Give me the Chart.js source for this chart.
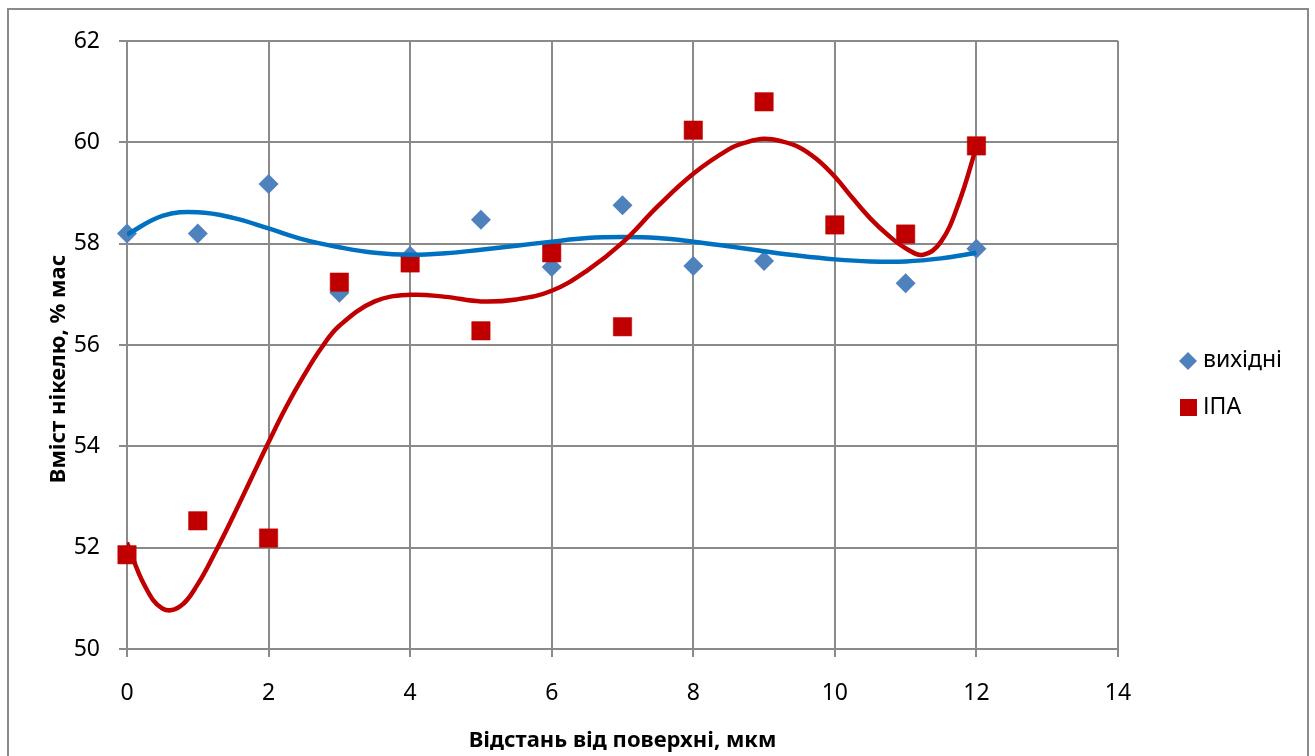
<!DOCTYPE html>
<html>
<head>
<meta charset="utf-8">
<script src="https://cdn.jsdelivr.net/npm/chart.js@4/dist/chart.umd.min.js"></script>
<style>
  html, body { margin: 0; padding: 0; background: #fff; overflow: hidden; }
  #wrap { position: relative; width: 1315px; height: 756px; overflow: hidden; }
  #chart { position: absolute; left: 0; top: 0; }
  #frame {
    position: absolute; left: 7px; top: 8px; width: 1302px; height: 800px;
    border: 2px solid #8a8a8a; box-sizing: border-box;
  }
</style>
</head>
<body>
<div id="wrap">
  <div id="frame"></div>
  <canvas id="chart" width="1315" height="756"></canvas>
</div>
<script>
/*global Chart*/
// measured points
var distances = [0, 1, 2, 3, 4, 5, 6, 7, 8, 9, 10, 11, 12];
var vykhidni = [58.2, 58.2, 59.18, 57.03, 57.76, 58.47, 57.54, 58.76, 57.56, 57.66, null, 57.22, 57.9];
var ipa = [51.86, 52.53, 52.19, 57.24, 57.62, 56.28, 57.82, 56.36, 60.24, 60.8, 58.37, 58.19, 59.93];

// trend lines
var vykhidniTrendX = [0, 0.5, 1, 1.5, 2, 2.5, 3, 3.5, 4, 4.5, 5, 5.5, 6, 6.5, 7, 7.5, 8, 8.5, 9, 9.5, 10, 10.5, 11, 11.5, 12];
var vykhidniTrend = [58.18, 58.55, 58.62, 58.51, 58.3, 58.08, 57.93, 57.82, 57.78, 57.81, 57.88, 57.96, 58.04, 58.11, 58.13, 58.11, 58.04, 57.95, 57.85, 57.76, 57.69, 57.65, 57.65, 57.71, 57.82];
var ipaTrendX = [0, 0.25, 0.5, 0.75, 1, 1.25, 1.5, 1.75, 2, 2.25, 2.5, 2.75, 3, 3.5, 4, 4.5, 5, 5.5, 6, 6.5, 7, 7.5, 8, 8.5, 8.75, 9, 9.25, 9.5, 9.75, 10, 10.25, 10.5, 10.75, 11, 11.25, 11.5, 11.75, 12];
var ipaTrend = [52.1, 51.25, 50.8, 50.84, 51.28, 51.92, 52.62, 53.35, 54.08, 54.78, 55.4, 55.95, 56.38, 56.86, 56.99, 56.95, 56.86, 56.9, 57.07, 57.47, 58.02, 58.74, 59.38, 59.86, 60.0, 60.07, 60.02, 59.9, 59.66, 59.32, 58.9, 58.5, 58.17, 57.91, 57.78, 58.04, 58.8, 59.91];

var xTickLabels = ['0', '2', '4', '6', '8', '10', '12', '14'];
var yTickLabels = ['50', '52', '54', '56', '58', '60', '62'];
var seriesNames = ['вихідні', 'ІПА'];
var xTitle = 'Відстань від поверхні, мкм';
var yTitle = 'Вміст нікелю, % мас';

var BLUE = '#4F81BD';
var BLUE_LINE = '#0070C0';
var RED = '#C00000';
var GRID = '#8a8a8a';
var FONT = '"Noto Sans", "Open Sans", sans-serif';

var toPoints = function(xs, ys) {
  var pts = [];
  xs.forEach(function(x, i) {
    if (ys[i] !== null) pts.push({x: x, y: ys[i]});
  });
  return pts;
};

// legend and y title drawn by hand so they sit where the original has them
var sidePlugin = {
  id: 'sideLegend',
  afterDraw: function(chart) {
    var ctx = chart.ctx;
    ctx.save();
    ctx.fillStyle = BLUE;
    ctx.beginPath();
    ctx.moveTo(1188, 352);
    ctx.lineTo(1197, 361);
    ctx.lineTo(1188, 370);
    ctx.lineTo(1179, 361);
    ctx.closePath();
    ctx.fill();
    ctx.fillStyle = RED;
    ctx.fillRect(1180, 399, 17, 17);
    ctx.fillStyle = '#000';
    ctx.font = '23px ' + FONT;
    ctx.textBaseline = 'middle';
    ctx.textAlign = 'left';
    ctx.fillText(seriesNames[0], 1203, 360);
    ctx.fillText(seriesNames[1], 1203, 407);

    ctx.translate(59, 369);
    ctx.rotate(-Math.PI / 2);
    ctx.textAlign = 'center';
    ctx.font = 'bold 22px ' + FONT;
    ctx.fillText(yTitle, 0, 0);
    ctx.restore();
  }
};

var ctx = document.getElementById('chart').getContext('2d');
new Chart(ctx, {
  type: 'scatter',
  data: {
    datasets: [{
      label: seriesNames[1] + ' trend',
      type: 'line',
      data: toPoints(ipaTrendX, ipaTrend),
      borderColor: RED,
      borderWidth: 4.5,
      pointRadius: 0,
      tension: 0.4,
      fill: false,
      order: 1
    }, {
      label: seriesNames[0] + ' trend',
      type: 'line',
      data: toPoints(vykhidniTrendX, vykhidniTrend),
      borderColor: BLUE_LINE,
      borderWidth: 4.5,
      pointRadius: 0,
      tension: 0.4,
      fill: false,
      order: 2
    }, {
      label: seriesNames[1],
      data: toPoints(distances, ipa),
      pointStyle: 'rect',
      pointRadius: 13,
      backgroundColor: RED,
      borderColor: 'rgba(192,0,0,0.55)',
      borderWidth: 1,
      clip: false,
      order: 3
    }, {
      label: seriesNames[0],
      data: toPoints(distances, vykhidni),
      pointStyle: 'rectRot',
      pointRadius: 10,
      backgroundColor: BLUE,
      borderColor: BLUE,
      borderWidth: 0,
      clip: false,
      order: 4
    }]
  },
  options: {
    responsive: false,
    animation: false,
    devicePixelRatio: 1,
    layout: { padding: { left: 0, top: 41, right: 197, bottom: 0 } },
    plugins: {
      legend: { display: false },
      tooltip: { enabled: false }
    },
    scales: {
      x: {
        type: 'linear',
        min: 0,
        max: 14,
        afterFit: function(scale) { scale.height = 107; },
        afterBuildTicks: function(scale) {
          scale.ticks = xTickLabels.map(function(t) { return {value: Number(t)}; });
        },
        ticks: {
          color: '#000',
          padding: 23,
          font: { family: FONT, size: 23 },
          callback: function(v) { return String(v); }
        },
        grid: { color: GRID, lineWidth: 2, tickLength: 8, tickColor: GRID },
        border: { color: GRID, width: 2 },
        title: {
          display: true,
          text: xTitle,
          color: '#000',
          font: { family: FONT, size: 22, weight: 'bold' },
          padding: { top: 0, bottom: 2 }
        }
      },
      y: {
        min: 50,
        max: 62,
        afterFit: function(scale) { scale.width = 127; },
        afterBuildTicks: function(scale) {
          scale.ticks = yTickLabels.map(function(t) { return {value: Number(t)}; });
        },
        ticks: {
          color: '#000',
          padding: 19,
          font: { family: FONT, size: 23 },
          callback: function(v) { return String(v); }
        },
        grid: { color: GRID, lineWidth: 2, tickLength: 8, tickColor: GRID },
        border: { color: GRID, width: 2 }
      }
    }
  },
  plugins: [sidePlugin]
});
</script>
</body>
</html>
